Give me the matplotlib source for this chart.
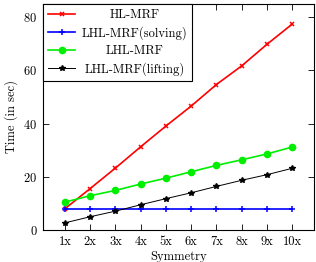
import matplotlib
matplotlib.use("Agg")
import matplotlib.pyplot as plt


plt.rcParams["font.family"] = ["cmr10", "DejaVu Serif"]
plt.rcParams["mathtext.fontset"] = "cm"
plt.rcParams["axes.formatter.use_mathtext"] = True
plt.rcParams["font.size"] = 9

LABELS = ["1x", "2x", "3x", "4x", "5x", "6x", "7x", "8x", "9x", "10x"]
HL_MRF = [8.0, 15.6, 23.3, 31.3, 39.1, 46.6, 54.7, 61.7, 69.8, 77.4]
LHL_SOLVING = [8.0, 8.0, 8.0, 8.0, 8.0, 8.0, 8.0, 8.0, 8.0, 8.0]
LHL_MRF = [10.5, 12.9, 14.9, 17.3, 19.5, 21.9, 24.3, 26.4, 28.6, 31.2]
LHL_LIFTING = [2.7, 5.0, 7.1, 9.5, 11.8, 14.0, 16.4, 18.7, 20.8, 23.2]
Y_TICKS = [0, 20, 40, 60, 80]

x = list(range(1, len(LABELS) + 1))

fig = plt.figure(figsize=(3.16, 2.62), dpi=100)
ax = fig.add_axes([0.136, 0.122, 0.858, 0.863])

ax.plot(x, HL_MRF, color="#ff0000", marker="x", markersize=3.5, markeredgewidth=1.1,
        linewidth=1.2, label="HL-MRF")
ax.plot(x, LHL_SOLVING, color="#0000ff", marker="+", markersize=4.5, markeredgewidth=1.1,
        linewidth=1.2, label="LHL-MRF(solving)")
ax.plot(x, LHL_MRF, color="#00ee00", marker="o", markersize=4.5,
        linewidth=1.2, label="LHL-MRF")
ax.plot(x, LHL_LIFTING, color="black", marker="*", markersize=4,
        linewidth=0.7, label="LHL-MRF(lifting)")

ax.set_xlim(0.13, 10.87)
ax.set_ylim(0, 85)
ax.set_xticks(x)
ax.set_xticklabels(LABELS)
ax.set_yticks(Y_TICKS)
ax.tick_params(direction="in", top=True, right=True, length=4, width=0.6, pad=4)
for s in ax.spines.values():
    s.set_linewidth(0.8)

ax.set_xlabel("Symmetry", labelpad=2)
ax.set_ylabel("Time (in sec)", labelpad=4)

leg = ax.legend(loc="upper left", bbox_to_anchor=(0, 1), borderaxespad=0,
                fancybox=False, framealpha=1, edgecolor="black",
                handlelength=2.2, handletextpad=0.5, labelspacing=0.4,
                borderpad=0.4, fontsize=9)
leg.get_frame().set_linewidth(0.8)

# center the legend labels like pgfplots does
fig.canvas.draw()
r = fig.canvas.get_renderer()
widths = [t.get_window_extent(r).width for t in leg.get_texts()]
wmax = max(widths)
for t, w in zip(leg.get_texts(), widths):
    t.set_x((wmax - w) / 2)

fig.savefig("out.png", dpi=100)
